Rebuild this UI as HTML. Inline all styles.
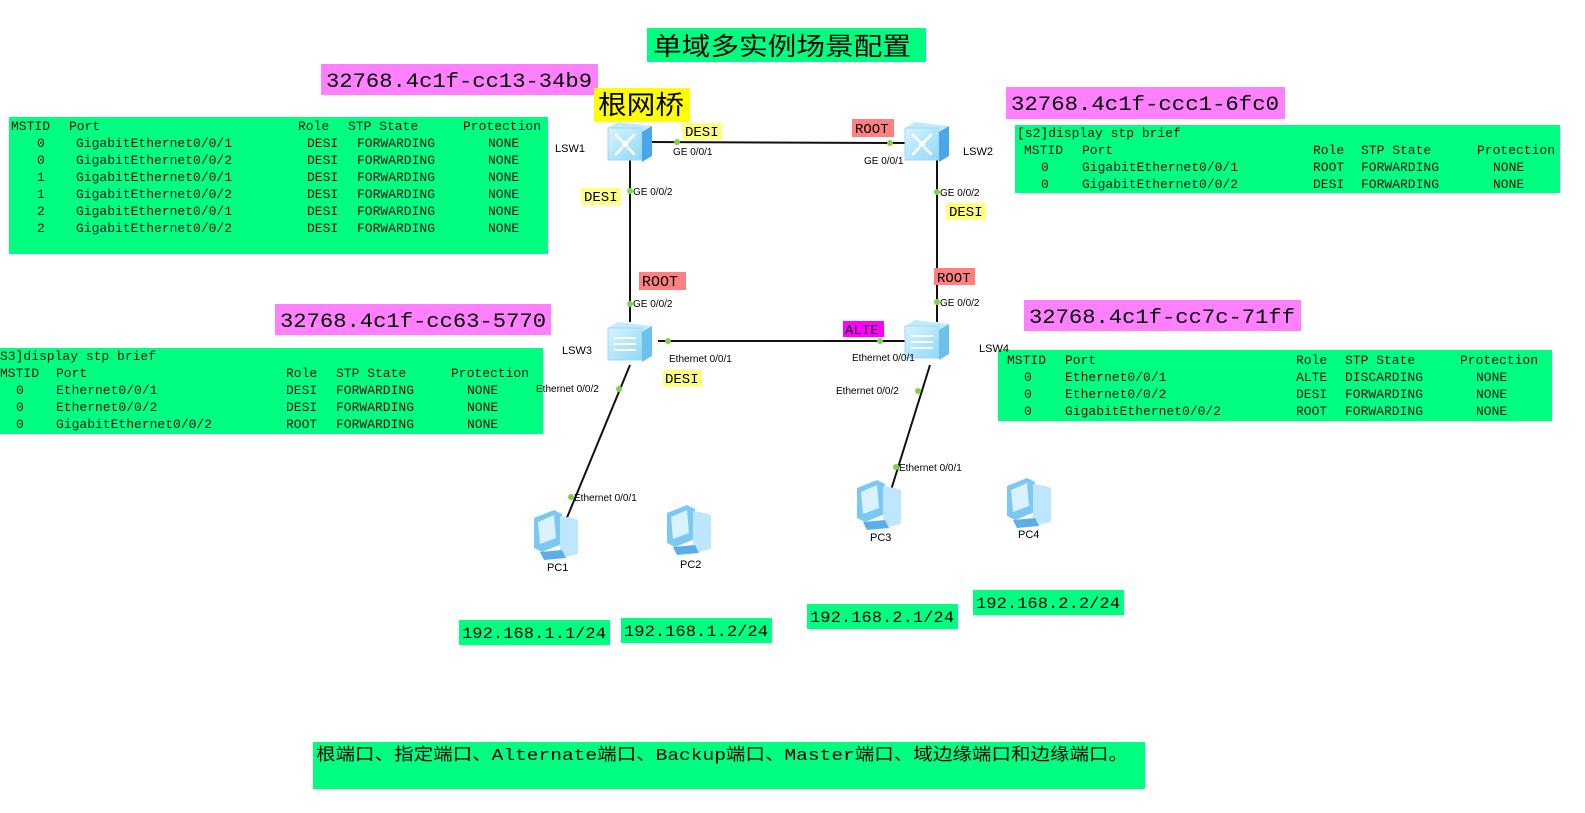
<!DOCTYPE html>
<html><head><meta charset="utf-8"><style>
html,body{margin:0;padding:0;background:#fff;width:1585px;height:813px;overflow:hidden}
svg text{font-family:"Liberation Mono","Noto Sans CJK SC",monospace}
.m text{font-size:13px;fill:#111}
svg .s text{font-family:"Liberation Sans",Arial,sans-serif;font-size:10px;fill:#000}
svg .l text{font-family:"Liberation Sans",Arial,sans-serif;font-size:11px;fill:#000}
svg text.t{font-size:14px;fill:#000}
svg text.b{font-size:20px;fill:#000}
</style></head><body>
<svg width="1585" height="813" xmlns="http://www.w3.org/2000/svg">
<defs>
<linearGradient id="sw" x1="0" y1="0" x2="1" y2="1"><stop offset="0" stop-color="#d8f4ff"/><stop offset="1" stop-color="#8fd8f8"/></linearGradient>
<g id="core">
<polygon points="0,6 10,0 44,4 34,10" fill="#bfeaff"/>
<rect x="0" y="6" width="34" height="32" fill="url(#sw)" stroke="#9fd8f0"/>
<polygon points="34,10 44,4 44,34 34,40" fill="#4aa6e8"/>
<g stroke="#fff" stroke-width="2.5" stroke-linecap="round">
<path d="M8,13 L14,19 M26,13 L20,19 M8,32 L14,26 M26,32 L20,26"/>
<circle cx="17" cy="22" r="2" fill="#fff"/>
</g>
</g>
<g id="pc">
<polygon points="2,8 22,0 30,4 30,34 10,42 2,38" fill="#7cc8f4"/>
<polygon points="6,12 22,5 24,28 8,34" fill="#d8f2ff"/>
<polygon points="28,6 40,8 46,10 46,44 30,48 28,42" fill="#bfe6ff"/>
<polygon points="8,42 30,40 34,48 12,50" fill="#5aaeea"/>
</g>
</defs>

<rect x="647" y="28" width="279" height="34" fill="#00ff80"/>
<text x="653" y="55" style="font-family:'Noto Sans CJK SC',sans-serif;font-size:25px" textLength="258" lengthAdjust="spacingAndGlyphs">单域多实例场景配置</text>

<rect x="321" y="64" width="277" height="31" fill="#ff80ff"/>
<text class="b" x="326" y="87" textLength="266" lengthAdjust="spacingAndGlyphs">32768.4c1f-cc13-34b9</text>
<rect x="1006" y="87" width="279" height="32" fill="#ff80ff"/>
<text class="b" x="1011" y="110" textLength="268" lengthAdjust="spacingAndGlyphs">32768.4c1f-ccc1-6fc0</text>
<rect x="275" y="304" width="276" height="31" fill="#ff80ff"/>
<text class="b" x="280" y="327" textLength="266" lengthAdjust="spacingAndGlyphs">32768.4c1f-cc63-5770</text>
<rect x="1024" y="300" width="277" height="31" fill="#ff80ff"/>
<text class="b" x="1029" y="323" textLength="266" lengthAdjust="spacingAndGlyphs">32768.4c1f-cc7c-71ff</text>

<rect x="594" y="88" width="96" height="34" fill="#ffff00"/>
<text x="598" y="114" style="font-family:'Noto Sans CJK SC',sans-serif;font-size:26px" textLength="86" lengthAdjust="spacingAndGlyphs">根网桥</text>

<rect x="9" y="117" width="539" height="137" fill="#00ff80"/>
<g class="m">
<text x="11" y="130">MSTID</text><text x="69" y="130">Port</text><text x="298" y="130">Role</text><text x="348" y="130">STP State</text><text x="463" y="130">Protection</text>
<text x="37" y="147">0</text><text x="76" y="147">GigabitEthernet0/0/1</text><text x="307" y="147">DESI</text><text x="357" y="147">FORWARDING</text><text x="488" y="147">NONE</text>
<text x="37" y="164">0</text><text x="76" y="164">GigabitEthernet0/0/2</text><text x="307" y="164">DESI</text><text x="357" y="164">FORWARDING</text><text x="488" y="164">NONE</text>
<text x="37" y="181">1</text><text x="76" y="181">GigabitEthernet0/0/1</text><text x="307" y="181">DESI</text><text x="357" y="181">FORWARDING</text><text x="488" y="181">NONE</text>
<text x="37" y="198">1</text><text x="76" y="198">GigabitEthernet0/0/2</text><text x="307" y="198">DESI</text><text x="357" y="198">FORWARDING</text><text x="488" y="198">NONE</text>
<text x="37" y="215">2</text><text x="76" y="215">GigabitEthernet0/0/1</text><text x="307" y="215">DESI</text><text x="357" y="215">FORWARDING</text><text x="488" y="215">NONE</text>
<text x="37" y="232">2</text><text x="76" y="232">GigabitEthernet0/0/2</text><text x="307" y="232">DESI</text><text x="357" y="232">FORWARDING</text><text x="488" y="232">NONE</text>
</g>

<rect x="1015" y="125" width="545" height="68" fill="#00ff80"/>
<g class="m">
<text x="1017" y="137">[s2]display stp brief</text>
<text x="1024" y="154">MSTID</text><text x="1082" y="154">Port</text><text x="1313" y="154">Role</text><text x="1361" y="154">STP State</text><text x="1477" y="154">Protection</text>
<text x="1041" y="171">0</text><text x="1082" y="171">GigabitEthernet0/0/1</text><text x="1313" y="171">ROOT</text><text x="1361" y="171">FORWARDING</text><text x="1493" y="171">NONE</text>
<text x="1041" y="188">0</text><text x="1082" y="188">GigabitEthernet0/0/2</text><text x="1313" y="188">DESI</text><text x="1361" y="188">FORWARDING</text><text x="1493" y="188">NONE</text>
</g>

<rect x="0" y="348" width="543" height="86" fill="#00ff80"/>
<g class="m">
<text x="0" y="360">S3]display stp brief</text>
<text x="0" y="377">MSTID</text><text x="56" y="377">Port</text><text x="286" y="377">Role</text><text x="336" y="377">STP State</text><text x="451" y="377">Protection</text>
<text x="16" y="394">0</text><text x="56" y="394">Ethernet0/0/1</text><text x="286" y="394">DESI</text><text x="336" y="394">FORWARDING</text><text x="467" y="394">NONE</text>
<text x="16" y="411">0</text><text x="56" y="411">Ethernet0/0/2</text><text x="286" y="411">DESI</text><text x="336" y="411">FORWARDING</text><text x="467" y="411">NONE</text>
<text x="16" y="428">0</text><text x="56" y="428">GigabitEthernet0/0/2</text><text x="286" y="428">ROOT</text><text x="336" y="428">FORWARDING</text><text x="467" y="428">NONE</text>
</g>

<rect x="998" y="350" width="554" height="71" fill="#00ff80"/>
<g class="m">
<text x="1007" y="364">MSTID</text><text x="1065" y="364">Port</text><text x="1296" y="364">Role</text><text x="1345" y="364">STP State</text><text x="1460" y="364">Protection</text>
<text x="1024" y="381">0</text><text x="1065" y="381">Ethernet0/0/1</text><text x="1296" y="381">ALTE</text><text x="1345" y="381">DISCARDING</text><text x="1476" y="381">NONE</text>
<text x="1024" y="398">0</text><text x="1065" y="398">Ethernet0/0/2</text><text x="1296" y="398">DESI</text><text x="1345" y="398">FORWARDING</text><text x="1476" y="398">NONE</text>
<text x="1024" y="415">0</text><text x="1065" y="415">GigabitEthernet0/0/2</text><text x="1296" y="415">ROOT</text><text x="1345" y="415">FORWARDING</text><text x="1476" y="415">NONE</text>
</g>

<g stroke="#111" stroke-width="2">
<line x1="650" y1="142" x2="905" y2="143"/>
<line x1="630" y1="160" x2="630" y2="322"/>
<line x1="937" y1="160" x2="937" y2="322"/>
<line x1="658" y1="341" x2="910" y2="341"/>
<line x1="630" y1="365" x2="566" y2="520"/>
<line x1="930" y1="365" x2="891" y2="490"/>
</g>

<use href="#core" x="608" y="122"/>
<use href="#core" x="905" y="122"/>
<g transform="translate(608,322)">
<polygon points="0,6 10,0 44,4 34,10" fill="#bfeaff"/>
<rect x="0" y="6" width="34" height="32" fill="url(#sw)" stroke="#9fd8f0"/>
<polygon points="34,10 44,4 44,34 34,40" fill="#6cc0ee"/>
<path d="M6,16 h22 M6,22 h22 M6,28 h22" stroke="#fff" stroke-width="2"/>
</g>
<g transform="translate(905,320)">
<polygon points="0,6 10,0 44,4 34,10" fill="#bfeaff"/>
<rect x="0" y="6" width="34" height="32" fill="url(#sw)" stroke="#9fd8f0"/>
<polygon points="34,10 44,4 44,34 34,40" fill="#6cc0ee"/>
<path d="M6,16 h22 M6,22 h22 M6,28 h22" stroke="#fff" stroke-width="2"/>
</g>

<use href="#pc" x="532" y="510"/>
<use href="#pc" x="665" y="505"/>
<use href="#pc" x="855" y="480"/>
<use href="#pc" x="1005" y="478"/>

<g fill="#7ed348">
<circle cx="677" cy="142" r="3"/><circle cx="890" cy="143" r="3"/>
<circle cx="630" cy="191" r="3"/><circle cx="937" cy="192" r="3"/>
<circle cx="630" cy="304" r="3"/><circle cx="937" cy="302" r="3"/>
<circle cx="668" cy="341" r="3"/><circle cx="880" cy="341" r="3"/>
<circle cx="619" cy="389" r="3"/><circle cx="918" cy="391" r="3"/>
<circle cx="571" cy="497" r="3"/><circle cx="896" cy="467" r="3"/>
</g>

<g class="l">
<text x="555" y="152">LSW1</text><text x="963" y="155">LSW2</text>
<text x="562" y="354">LSW3</text><text x="979" y="352">LSW4</text>
<text x="547" y="571">PC1</text><text x="680" y="568">PC2</text>
<text x="870" y="541">PC3</text><text x="1018" y="538">PC4</text>
</g>
<g class="s">
<text x="673" y="155">GE 0/0/1</text><text x="864" y="164">GE 0/0/1</text>
<text x="633" y="195">GE 0/0/2</text><text x="940" y="196">GE 0/0/2</text>
<text x="633" y="307">GE 0/0/2</text><text x="940" y="306">GE 0/0/2</text>
<text x="669" y="362">Ethernet 0/0/1</text><text x="852" y="361">Ethernet 0/0/1</text>
<text x="536" y="392">Ethernet 0/0/2</text><text x="836" y="394">Ethernet 0/0/2</text>
<text x="574" y="501">Ethernet 0/0/1</text><text x="899" y="471">Ethernet 0/0/1</text>
</g>

<rect x="682" y="123" width="40" height="17" fill="#ffff80"/><text class="t" x="685" y="136">DESI</text>
<rect x="852" y="119" width="42" height="18" fill="#ff8080"/><text class="t" x="855" y="133">ROOT</text>
<rect x="581" y="188" width="40" height="17" fill="#ffff80"/><text class="t" x="584" y="201">DESI</text>
<rect x="946" y="203" width="40" height="17" fill="#ffff80"/><text class="t" x="949" y="216">DESI</text>
<rect x="639" y="272" width="47" height="18" fill="#ff8080"/><text class="t" x="642" y="286" style="font-size:15px">ROOT</text>
<rect x="934" y="268" width="41" height="17" fill="#ff8080"/><text class="t" x="937" y="282">ROOT</text>
<rect x="843" y="321" width="41" height="16" fill="#ff00ff"/><text class="t" x="845" y="334">ALTE</text>
<rect x="663" y="370" width="39" height="17" fill="#ffff80"/><text class="t" x="665" y="383">DESI</text>

<rect x="459" y="620" width="151" height="25" fill="#00ff80"/><text x="462" y="638" style="font-size:16px" textLength="144" lengthAdjust="spacingAndGlyphs">192.168.1.1/24</text>
<rect x="621" y="618" width="151" height="25" fill="#00ff80"/><text x="624" y="636" style="font-size:16px" textLength="144" lengthAdjust="spacingAndGlyphs">192.168.1.2/24</text>
<rect x="807" y="604" width="151" height="25" fill="#00ff80"/><text x="810" y="622" style="font-size:16px" textLength="144" lengthAdjust="spacingAndGlyphs">192.168.2.1/24</text>
<rect x="973" y="590" width="151" height="25" fill="#00ff80"/><text x="976" y="608" style="font-size:16px" textLength="144" lengthAdjust="spacingAndGlyphs">192.168.2.2/24</text>

<rect x="313" y="742" width="832" height="47" fill="#00ff80"/>
<text x="316" y="760" style="font-size:17px" textLength="812" lengthAdjust="spacingAndGlyphs">根端口、指定端口、Alternate端口、Backup端口、Master端口、域边缘端口和边缘端口。</text>
</svg>
</body></html>
